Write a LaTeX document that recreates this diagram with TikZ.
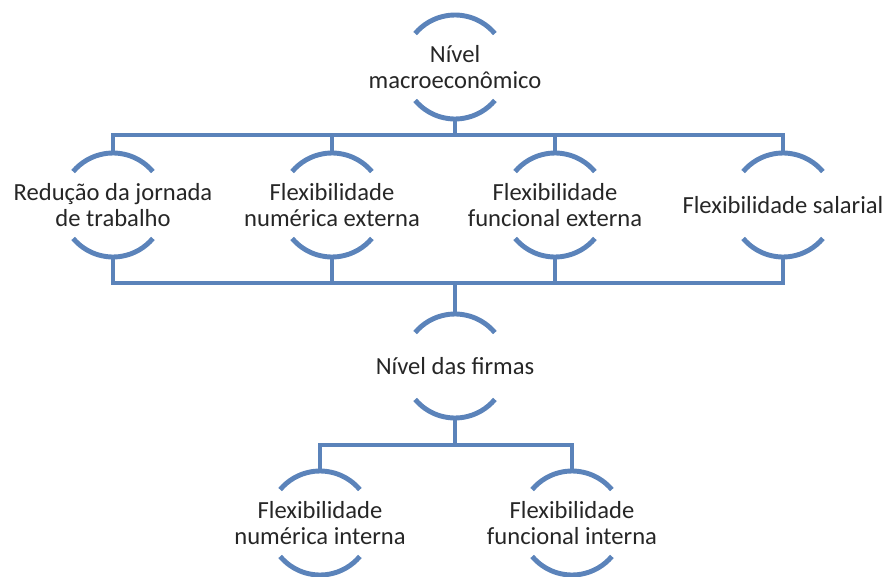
\documentclass[tikz,border=0pt]{standalone}
\usepackage{fontspec}
\setmainfont{Carlito}
\definecolor{linkblue}{RGB}{91,131,186}
\tikzset{
  hub/.style={circle, minimum size=2.08cm, inner sep=0pt, outer sep=0pt},
  txt/.style={align=center, text=black!85, inner sep=0pt},
  link/.style={draw=linkblue, line width=2.8pt}
}
\begin{document}
\begin{tikzpicture}[x=0.02cm, y=0.02cm, font=\fontsize{14}{14.8}\selectfont]
			\def\rad{52}
			\useasboundingbox (0,0) rectangle (887,576);
			% niveis
			\node[hub] (macro) at (455,509) {};
			\node[hub] (red) at (113,371) {};
			\node[hub] (numext) at (332,371) {};
			\node[hub] (funext) at (555,371) {};
			\node[hub] (sal) at (783,371) {};
			\node[hub] (firmas) at (455,210) {};
			\node[hub] (numint) at (320,53) {};
			\node[hub] (funint) at (572,53) {};
			\node[txt] (macro-t) at (macro) {Nível\\macroeconômico};
			\node[txt] (red-t) at (red) {Redução da jornada\\de trabalho};
			\node[txt] (numext-t) at (numext) {Flexibilidade\\numérica externa};
			\node[txt] (funext-t) at (funext) {Flexibilidade\\funcional externa};
			\node[txt] (sal-t) at (sal) {Flexibilidade salarial};
			\node[txt] (firmas-t) at (firmas) {Nível das firmas};
			\node[txt] (numint-t) at (numint) {Flexibilidade\\numérica interna};
			\node[txt] (funint-t) at (funint) {Flexibilidade\\funcional interna};
			\foreach \n in {macro,red,numext,funext,sal,firmas,numint,funint}{
				\draw[link] (\n.40) arc (40:140:\rad);
				\draw[link] (\n.220) arc (220:320:\rad);
			}
			% barras
			\coordinate (topbar) at (455,441);
			\coordinate (midbar) at (455,293);
			\coordinate (lowbar) at (455,131);
			\draw[link] (macro.south) -- (topbar);
			\draw[link] (red.north) |- (topbar) -| (sal.north);
			\draw[link] (numext.north) -- (numext.north |- topbar);
			\draw[link] (funext.north) -- (funext.north |- topbar);
			\draw[link] (red.south) |- (midbar) -| (sal.south);
			\draw[link] (numext.south) -- (numext.south |- midbar);
			\draw[link] (funext.south) -- (funext.south |- midbar);
			\draw[link] (midbar) -- (firmas.north);
			\draw[link] (firmas.south) -- (lowbar);
			\draw[link] (numint.north) |- (lowbar) -| (funint.north);
		\end{tikzpicture}
\end{document}
